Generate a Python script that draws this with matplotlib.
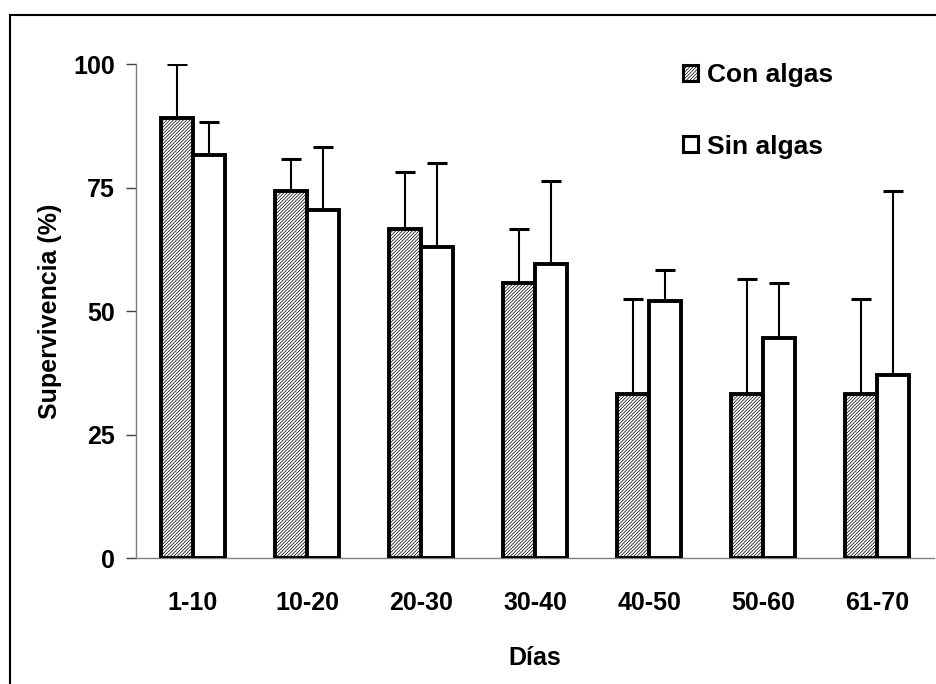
import matplotlib
matplotlib.use("Agg")
import matplotlib.pyplot as plt
from matplotlib.lines import Line2D
import numpy as np

# Survival (%) per time interval, with / without algae
categories = ["1-10", "10-20", "20-30", "30-40", "40-50", "50-60", "61-70"]
con_algas = [89.0, 74.2, 66.7, 55.6, 33.3, 33.3, 33.3]
con_algas_err = [11.0, 6.6, 11.4, 11.0, 19.1, 23.2, 19.1]
sin_algas = [81.5, 70.5, 63.0, 59.5, 52.0, 44.5, 37.0]
sin_algas_err = [6.8, 12.8, 16.9, 16.8, 6.3, 11.1, 37.3]
y_ticks = [0, 25, 50, 75, 100]

plt.rcParams["font.family"] = ["Liberation Sans", "DejaVu Sans"]
plt.rcParams["font.weight"] = "bold"
plt.rcParams["hatch.linewidth"] = 0.5

fig = plt.figure(figsize=(9.37, 6.84), dpi=100)
ax = fig.add_axes([0.1451, 0.1842, 0.852, 0.7222])

x = np.arange(len(categories))
w = 0.28
edge_lw = 2.8

ax.bar(x - w / 2, con_algas, width=w, facecolor="white", edgecolor="black",
       hatch="/" * 10, linewidth=edge_lw, zorder=3, label="Con algas")
ax.bar(x + w / 2, sin_algas, width=w, facecolor="white", edgecolor="black",
       linewidth=edge_lw, zorder=3, label="Sin algas")

err_kw = dict(fmt="none", ecolor="black", elinewidth=1.5, capsize=7, capthick=2.2, zorder=2)
ax.errorbar(x - w / 2, con_algas, yerr=[np.zeros(len(x)), con_algas_err], **err_kw)
ax.errorbar(x + w / 2, sin_algas, yerr=[np.zeros(len(x)), sin_algas_err], **err_kw)

ax.set_xlim(-0.5, len(categories) - 0.5)
ax.set_ylim(0, 100)
ax.set_yticks(y_ticks)
ax.set_xticks(x)
ax.set_xticklabels(categories)

for side in ("top", "right"):
    ax.spines[side].set_visible(False)
ax.spines["left"].set_color("#808080")
ax.spines["left"].set_linewidth(1.0)
ax.spines["bottom"].set_color("#808080")
ax.spines["bottom"].set_linewidth(1.0)

ax.tick_params(axis="y", direction="out", length=7, width=1, color="#404040",
               labelsize=18, pad=8)
ax.tick_params(axis="x", length=0, labelsize=18, pad=24)

ax.set_ylabel("Supervivencia (%)", fontsize=18, fontweight="bold", labelpad=8)
ax.set_xlabel("Días", fontsize=18, fontweight="bold", labelpad=22)

leg = ax.legend(loc="upper left", bbox_to_anchor=(0.672, 1.023), frameon=False,
                fontsize=19, handlelength=0.55, handleheight=0.55,
                handletextpad=0.35, labelspacing=1.8, borderaxespad=0)
for h in leg.legend_handles:
    h.set_linewidth(2.2)

# Outer frame around the figure
fig.add_artist(Line2D([10 / 937, 10 / 937], [0, 1 - 15 / 684], color="black", lw=1.5,
                      transform=fig.transFigure))
fig.add_artist(Line2D([10 / 937, 1], [1 - 15 / 684, 1 - 15 / 684], color="black", lw=1.5,
                      transform=fig.transFigure))

fig.savefig("out.png", dpi=100)
